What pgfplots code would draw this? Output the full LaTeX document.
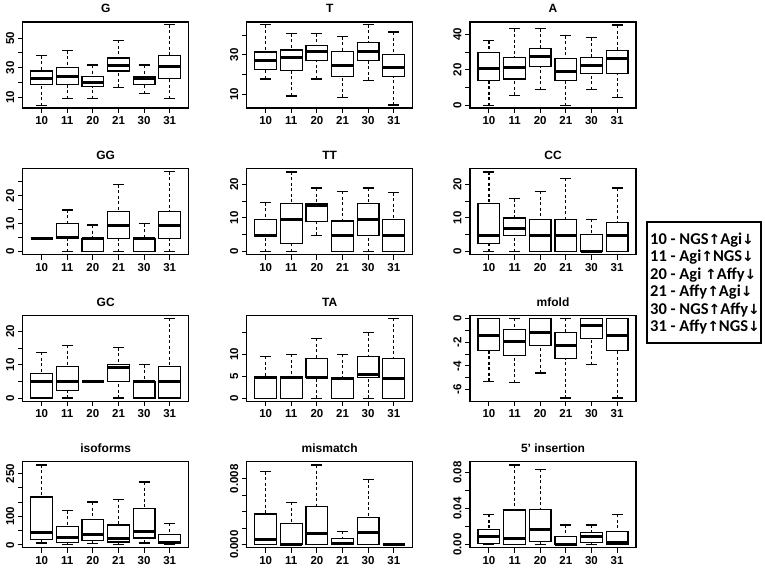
\documentclass[border=0pt]{standalone}
\usepackage{pgfplots}
\pgfplotsset{compat=1.18}
\usepgfplotslibrary{statistics}
\usepackage{fontspec}
\setmainfont{Liberation Sans}
\newfontfamily\lgfam{Carlito}
\newfontfamily\arrfam{DejaVu Sans}
\newcommand\tkf{\fontsize{11.5}{13}\selectfont\bfseries}
\newcommand\ttf{\fontsize{12}{14}\selectfont\bfseries}
\newcommand\lgf{\lgfam\fontsize{16.5}{17.5}\selectfont\bfseries}
\newcommand\up{{\arrfam\bfseries\fontsize{14}{14}\selectfont ↑}}
\newcommand\dn{{\arrfam\bfseries\fontsize{14}{14}\selectfont ↓}}
\pgfplotsset{
  bp/.style={black, line width=1.2pt, solid, mark=none},
  panel/.style={
    width=166pt, height=86pt, scale only axis, anchor=north west,
    xmin=0.26, xmax=6.74, xtick={1,2,3,4,5,6}, xticklabels={10,11,20,21,30,31},
    tick align=outside, xtick pos=bottom, ytick pos=left,
    major tick length=5pt, minor tick num=0,
    axis line style={line width=1.3pt},
    every tick/.style={line width=1pt, black},
    scaled y ticks=false, scaled x ticks=false,
    ticklabel style={font=\tkf},
    yticklabel style={rotate=90, anchor=south},
    title style={font=\ttf, yshift=-0.5pt},
    boxplot/draw direction=y,
    boxplot/box extend=0.85,
    boxplot/whisker extend=0.43,
    boxplot/every median/.style={line width=3pt},
    boxplot/every box/.style={line width=1.2pt},
    boxplot/draw/lower whisker/.code={%
      \draw[line width=1.1pt, dash pattern=on 3pt off 2.5pt]
        (boxplot cs:\pgfplotsboxplotvalue{lower whisker}) --
        (boxplot cs:\pgfplotsboxplotvalue{lower quartile});
      \draw[line width=1.2pt, solid]
        (boxplot whisker cs:\pgfplotsboxplotvalue{lower whisker},0) --
        (boxplot whisker cs:\pgfplotsboxplotvalue{lower whisker},1);
    },
    boxplot/draw/upper whisker/.code={%
      \draw[line width=1.1pt, dash pattern=on 3pt off 2.5pt]
        (boxplot cs:\pgfplotsboxplotvalue{upper whisker}) --
        (boxplot cs:\pgfplotsboxplotvalue{upper quartile});
      \draw[line width=1.2pt, solid]
        (boxplot whisker cs:\pgfplotsboxplotvalue{upper whisker},0) --
        (boxplot whisker cs:\pgfplotsboxplotvalue{upper whisker},1);
    },
  }
}
\begin{document}
\begin{tikzpicture}
\path[use as bounding box] (0,0) rectangle (765pt,-568pt);
% ---------------- Row 1 ----------------
\begin{axis}[panel, at={(22.7pt,-22pt)}, title={G}, ymin=2.7, ymax=60.9,
  ytick={10,20,30,40,50}, yticklabels={10,,30,,50}]
\addplot[bp, boxplot prepared={draw position=1, lower whisker=4.3, lower quartile=18.4, median=22.7, upper quartile=27.7, upper whisker=38}] coordinates {};
\addplot[bp, boxplot prepared={draw position=2, lower whisker=8.9, lower quartile=18.4, median=24.1, upper quartile=30.2, upper whisker=41.4}] coordinates {};
\addplot[bp, boxplot prepared={draw position=3, lower whisker=8.9, lower quartile=17.3, median=19.8, upper quartile=23.9, upper whisker=31.8}] coordinates {};
\addplot[bp, boxplot prepared={draw position=4, lower whisker=16.6, lower quartile=27.7, median=31.8, upper quartile=36.6, upper whisker=48.4}] coordinates {};
\addplot[bp, boxplot prepared={draw position=5, lower whisker=12.5, lower quartile=18.4, median=22.5, upper quartile=23.9, upper whisker=31.8}] coordinates {};
\addplot[bp, boxplot prepared={draw position=6, lower whisker=8.9, lower quartile=22.5, median=30.7, upper quartile=38.2, upper whisker=59.1}] coordinates {};
\end{axis}
\begin{axis}[panel, at={(246.7pt,-22pt)}, title={T}, ymin=3.1, ymax=46.6,
  ytick={10,20,30,40}, yticklabels={10,,30,}]
\addplot[bp, boxplot prepared={draw position=1, lower whisker=17.8, lower quartile=22.5, median=27.1, upper quartile=31.4, upper whisker=45.3}] coordinates {};
\addplot[bp, boxplot prepared={draw position=2, lower whisker=9.2, lower quartile=22.2, median=28.5, upper quartile=32.4, upper whisker=40.7}] coordinates {};
\addplot[bp, boxplot prepared={draw position=3, lower whisker=17.8, lower quartile=27.1, median=31.9, upper quartile=34.9, upper whisker=40.7}] coordinates {};
\addplot[bp, boxplot prepared={draw position=4, lower whisker=8.6, lower quartile=19.2, median=24.7, upper quartile=31.5, upper whisker=39.2}] coordinates {};
\addplot[bp, boxplot prepared={draw position=5, lower whisker=17.1, lower quartile=27.1, median=31.9, upper quartile=36.3, upper whisker=45.3}] coordinates {};
\addplot[bp, boxplot prepared={draw position=6, lower whisker=4.6, lower quartile=19.2, median=23.7, upper quartile=30.3, upper whisker=41.5}] coordinates {};
\end{axis}
\begin{axis}[panel, at={(470pt,-22pt)}, title={A}, ymin=-1.3, ymax=46.9,
  ytick={0,10,20,30,40}, yticklabels={0,,20,,40}]
\addplot[bp, boxplot prepared={draw position=1, lower whisker=0, lower quartile=13.9, median=20.8, upper quartile=29.8, upper whisker=36.4}] coordinates {};
\addplot[bp, boxplot prepared={draw position=2, lower whisker=5.8, lower quartile=15.0, median=21.2, upper quartile=27.0, upper whisker=43.2}] coordinates {};
\addplot[bp, boxplot prepared={draw position=3, lower whisker=9.0, lower quartile=21.8, median=27.4, upper quartile=32.1, upper whisker=43.2}] coordinates {};
\addplot[bp, boxplot prepared={draw position=4, lower whisker=0, lower quartile=13.9, median=19.3, upper quartile=26.3, upper whisker=39.2}] coordinates {};
\addplot[bp, boxplot prepared={draw position=5, lower whisker=9.0, lower quartile=18.2, median=22.5, upper quartile=27.0, upper whisker=38.1}] coordinates {};
\addplot[bp, boxplot prepared={draw position=6, lower whisker=4.7, lower quartile=18.2, median=26.5, upper quartile=30.8, upper whisker=45.2}] coordinates {};
\end{axis}
% ---------------- Row 2 ----------------
\begin{axis}[panel, at={(22.7pt,-168.6pt)}, title={GG}, ymin=-1.1, ymax=29.7,
  ytick={0,5,10,15,20,25}, yticklabels={0,,10,,20,}]
\addplot[bp, boxplot prepared={draw position=1, lower whisker=4.8, lower quartile=4.8, median=4.8, upper quartile=4.8, upper whisker=4.8}] coordinates {};
\addplot[bp, boxplot prepared={draw position=2, lower whisker=0, lower quartile=4.8, median=5.0, upper quartile=10, upper whisker=14.9}] coordinates {};
\addplot[bp, boxplot prepared={draw position=3, lower whisker=0, lower quartile=0, median=4.8, upper quartile=4.8, upper whisker=9.5}] coordinates {};
\addplot[bp, boxplot prepared={draw position=4, lower whisker=0, lower quartile=4.8, median=9.3, upper quartile=14.4, upper whisker=24}] coordinates {};
\addplot[bp, boxplot prepared={draw position=5, lower whisker=0, lower quartile=0, median=4.8, upper quartile=4.8, upper whisker=10}] coordinates {};
\addplot[bp, boxplot prepared={draw position=6, lower whisker=0, lower quartile=4.8, median=9.3, upper quartile=14.4, upper whisker=28.6}] coordinates {};
\end{axis}
\begin{axis}[panel, at={(246.7pt,-168.6pt)}, title={TT}, ymin=-0.9, ymax=24.7,
  ytick={0,5,10,15,20}, yticklabels={0,,10,,20}]
\addplot[bp, boxplot prepared={draw position=1, lower whisker=0, lower quartile=4.5, median=4.9, upper quartile=9.6, upper whisker=14.5}] coordinates {};
\addplot[bp, boxplot prepared={draw position=2, lower whisker=0, lower quartile=2.3, median=9.6, upper quartile=14.4, upper whisker=23.7}] coordinates {};
\addplot[bp, boxplot prepared={draw position=3, lower whisker=4.9, lower quartile=8.9, median=13.6, upper quartile=14.4, upper whisker=18.9}] coordinates {};
\addplot[bp, boxplot prepared={draw position=4, lower whisker=0, lower quartile=0, median=4.9, upper quartile=9.1, upper whisker=18}] coordinates {};
\addplot[bp, boxplot prepared={draw position=5, lower whisker=0, lower quartile=4.9, median=9.6, upper quartile=14.4, upper whisker=18.9}] coordinates {};
\addplot[bp, boxplot prepared={draw position=6, lower whisker=0, lower quartile=0, median=4.9, upper quartile=9.6, upper whisker=17.5}] coordinates {};
\end{axis}
\begin{axis}[panel, at={(470pt,-168.6pt)}, title={CC}, ymin=-0.9, ymax=24.7,
  ytick={0,5,10,15,20}, yticklabels={0,,10,,20}]
\addplot[bp, boxplot prepared={draw position=1, lower whisker=0, lower quartile=2.3, median=4.9, upper quartile=14.4, upper whisker=23.7}] coordinates {};
\addplot[bp, boxplot prepared={draw position=2, lower whisker=0, lower quartile=4.9, median=7.0, upper quartile=10, upper whisker=15.8}] coordinates {};
\addplot[bp, boxplot prepared={draw position=3, lower whisker=0, lower quartile=0, median=4.9, upper quartile=9.6, upper whisker=18}] coordinates {};
\addplot[bp, boxplot prepared={draw position=4, lower whisker=0, lower quartile=0, median=4.9, upper quartile=9.6, upper whisker=21.8}] coordinates {};
\addplot[bp, boxplot prepared={draw position=5, lower whisker=0, lower quartile=0, median=0, upper quartile=5.1, upper whisker=9.6}] coordinates {};
\addplot[bp, boxplot prepared={draw position=6, lower whisker=0, lower quartile=0, median=4.7, upper quartile=8.7, upper whisker=18.9}] coordinates {};
\end{axis}
% ---------------- Row 3 ----------------
\begin{axis}[panel, at={(22.7pt,-315.2pt)}, title={GC}, ymin=-0.95, ymax=24.9,
  ytick={0,5,10,15,20}, yticklabels={0,,10,,20}]
\addplot[bp, boxplot prepared={draw position=1, lower whisker=0, lower quartile=0, median=4.9, upper quartile=7.4, upper whisker=13.7}] coordinates {};
\addplot[bp, boxplot prepared={draw position=2, lower whisker=0, lower quartile=2.3, median=4.9, upper quartile=9.5, upper whisker=15.8}] coordinates {};
\addplot[bp, boxplot prepared={draw position=3, lower whisker=5.0, lower quartile=5.0, median=5.0, upper quartile=5.0, upper whisker=5.0}] coordinates {};
\addplot[bp, boxplot prepared={draw position=4, lower whisker=0, lower quartile=4.9, median=9.2, upper quartile=10, upper whisker=15.1}] coordinates {};
\addplot[bp, boxplot prepared={draw position=5, lower whisker=0, lower quartile=0, median=4.9, upper quartile=4.9, upper whisker=10}] coordinates {};
\addplot[bp, boxplot prepared={draw position=6, lower whisker=0, lower quartile=0, median=5.0, upper quartile=9.5, upper whisker=24}] coordinates {};
\end{axis}
\begin{axis}[panel, at={(246.7pt,-315.2pt)}, title={TA}, ymin=-0.7, ymax=19,
  ytick={0,5,10,15}, yticklabels={0,5,10,}]
\addplot[bp, boxplot prepared={draw position=1, lower whisker=0, lower quartile=0, median=4.8, upper quartile=5.0, upper whisker=9.6}] coordinates {};
\addplot[bp, boxplot prepared={draw position=2, lower whisker=0, lower quartile=0, median=4.8, upper quartile=5.0, upper whisker=10}] coordinates {};
\addplot[bp, boxplot prepared={draw position=3, lower whisker=0, lower quartile=4.7, median=4.7, upper quartile=9.1, upper whisker=13.7}] coordinates {};
\addplot[bp, boxplot prepared={draw position=4, lower whisker=0, lower quartile=0, median=4.5, upper quartile=4.7, upper whisker=10}] coordinates {};
\addplot[bp, boxplot prepared={draw position=5, lower whisker=0, lower quartile=4.7, median=5.4, upper quartile=9.5, upper whisker=15}] coordinates {};
\addplot[bp, boxplot prepared={draw position=6, lower whisker=0, lower quartile=0, median=4.5, upper quartile=9.1, upper whisker=18.3}] coordinates {};
\end{axis}
\begin{axis}[panel, at={(470pt,-315.2pt)}, title={mfold}, ymin=-6.97, ymax=0.27,
  ytick={-6,-5,-4,-3,-2,-1,0}, yticklabels={-6,,-4,,-2,,0}]
\addplot[bp, boxplot prepared={draw position=1, lower whisker=-5.3, lower quartile=-2.67, median=-1.46, upper quartile=0, upper whisker=0}] coordinates {};
\addplot[bp, boxplot prepared={draw position=2, lower whisker=-5.4, lower quartile=-3.1, median=-1.98, upper quartile=-0.9, upper whisker=0}] coordinates {};
\addplot[bp, boxplot prepared={draw position=3, lower whisker=-4.6, lower quartile=-2.3, median=-1.2, upper quartile=0, upper whisker=0}] coordinates {};
\addplot[bp, boxplot prepared={draw position=4, lower whisker=-6.7, lower quartile=-3.4, median=-2.3, upper quartile=-1.2, upper whisker=0}] coordinates {};
\addplot[bp, boxplot prepared={draw position=5, lower whisker=-3.9, lower quartile=-1.7, median=-0.63, upper quartile=0, upper whisker=0}] coordinates {};
\addplot[bp, boxplot prepared={draw position=6, lower whisker=-6.7, lower quartile=-2.7, median=-1.46, upper quartile=0, upper whisker=0}] coordinates {};
\end{axis}
% ---------------- Row 4 ----------------
\begin{axis}[panel, at={(22.7pt,-461.8pt)}, title={isoforms}, ymin=-10, ymax=291,
  ytick={0,50,100,150,200,250}, yticklabels={0,,100,,,250}]
\addplot[bp, boxplot prepared={draw position=1, lower whisker=7, lower quartile=18.5, median=45, upper quartile=168, upper whisker=280}] coordinates {};
\addplot[bp, boxplot prepared={draw position=2, lower whisker=1.2, lower quartile=9.2, median=27.7, upper quartile=64.6, upper whisker=120}] coordinates {};
\addplot[bp, boxplot prepared={draw position=3, lower whisker=4.6, lower quartile=16, median=38, upper quartile=87.7, upper whisker=150}] coordinates {};
\addplot[bp, boxplot prepared={draw position=4, lower whisker=1.2, lower quartile=10.4, median=24, upper quartile=70, upper whisker=160}] coordinates {};
\addplot[bp, boxplot prepared={draw position=5, lower whisker=7, lower quartile=24, median=46, upper quartile=128, upper whisker=220}] coordinates {};
\addplot[bp, boxplot prepared={draw position=6, lower whisker=1, lower quartile=4.6, median=9.2, upper quartile=37, upper whisker=76}] coordinates {};
\end{axis}
% mismatch: values in units of 0.001
\begin{axis}[panel, at={(246.7pt,-461.8pt)}, title={mismatch}, ymin=-0.39, ymax=10.07,
  ytick={0,2,4,6,8}, yticklabels={0.000,,,,0.008}]
\addplot[bp, boxplot prepared={draw position=1, lower whisker=0, lower quartile=0.04, median=0.64, upper quartile=3.72, upper whisker=8.88}] coordinates {};
\addplot[bp, boxplot prepared={draw position=2, lower whisker=0, lower quartile=0, median=0.04, upper quartile=2.6, upper whisker=5.16}] coordinates {};
\addplot[bp, boxplot prepared={draw position=3, lower whisker=0, lower quartile=0, median=1.4, upper quartile=4.68, upper whisker=9.68}] coordinates {};
\addplot[bp, boxplot prepared={draw position=4, lower whisker=0, lower quartile=0, median=0.12, upper quartile=0.72, upper whisker=1.64}] coordinates {};
\addplot[bp, boxplot prepared={draw position=5, lower whisker=0, lower quartile=0, median=1.48, upper quartile=3.28, upper whisker=7.88}] coordinates {};
\addplot[bp, boxplot prepared={draw position=6, lower whisker=0, lower quartile=0, median=0, upper quartile=0, upper whisker=0}] coordinates {};
\end{axis}
% 5' insertion: values in units of 0.01
\begin{axis}[panel, at={(470pt,-461.8pt)}, title={5' insertion}, ymin=-0.35, ymax=9.19,
  ytick={0,2,4,6,8}, yticklabels={0.00,,0.04,,0.08}]
\addplot[bp, boxplot prepared={draw position=1, lower whisker=0, lower quartile=0.11, median=0.95, upper quartile=1.68, upper whisker=3.36}] coordinates {};
\addplot[bp, boxplot prepared={draw position=2, lower whisker=0, lower quartile=0, median=0.66, upper quartile=3.84, upper whisker=8.84}] coordinates {};
\addplot[bp, boxplot prepared={draw position=3, lower whisker=0, lower quartile=0.37, median=1.64, upper quartile=3.91, upper whisker=8.37}] coordinates {};
\addplot[bp, boxplot prepared={draw position=4, lower whisker=0, lower quartile=0, median=0.04, upper quartile=0.91, upper whisker=2.19}] coordinates {};
\addplot[bp, boxplot prepared={draw position=5, lower whisker=0, lower quartile=0.22, median=0.88, upper quartile=1.35, upper whisker=2.19}] coordinates {};
\addplot[bp, boxplot prepared={draw position=6, lower whisker=0, lower quartile=0, median=0.29, upper quartile=1.5, upper whisker=3.36}] coordinates {};
\end{axis}
% ---------------- Legend box ----------------
\draw[line width=1.2pt] (647pt,-222pt) rectangle (761pt,-343pt);
\node[anchor=base west, inner sep=0pt, font=\lgf] at (650pt,-244pt) {10 - NGS\up Agi\dn};
\node[anchor=base west, inner sep=0pt, font=\lgf] at (650pt,-261.5pt) {11 - Agi\up NGS\dn};
\node[anchor=base west, inner sep=0pt, font=\lgf] at (650pt,-279pt) {20 - Agi \up Affy\dn};
\node[anchor=base west, inner sep=0pt, font=\lgf] at (650pt,-296.5pt) {21 - Affy\up Agi\dn};
\node[anchor=base west, inner sep=0pt, font=\lgf] at (650pt,-314pt) {30 - NGS\up Affy\dn};
\node[anchor=base west, inner sep=0pt, font=\lgf] at (650pt,-331.5pt) {31 - Affy\up NGS\dn};
\end{tikzpicture}
\end{document}
